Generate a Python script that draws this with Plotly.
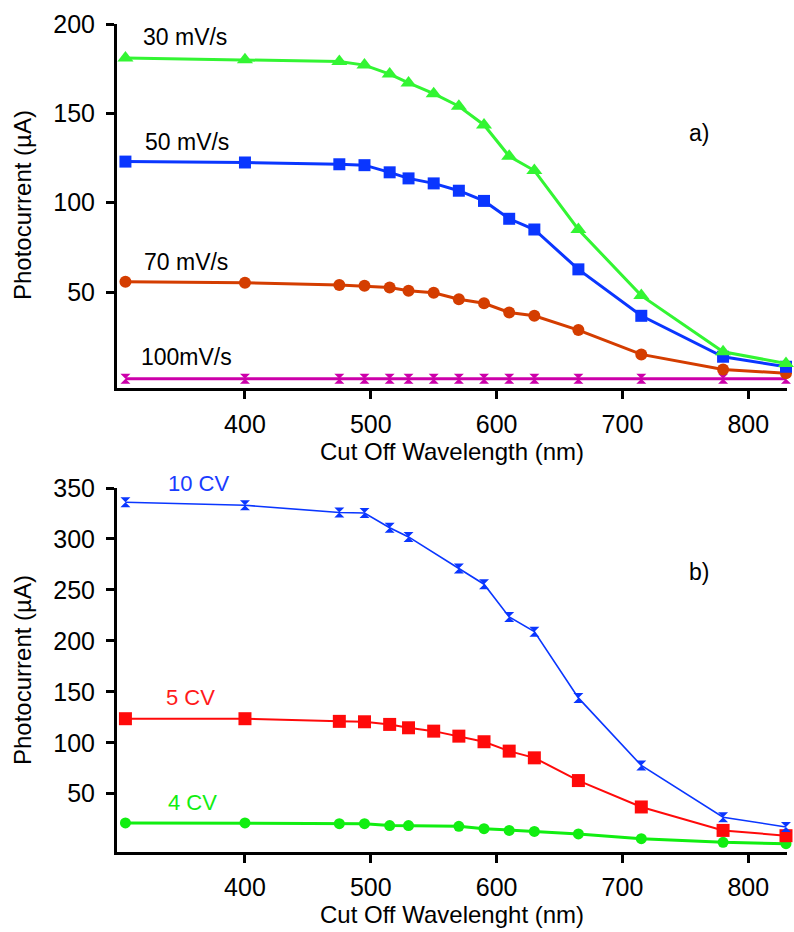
import plotly.graph_objects as go

# Cut-off wavelengths (nm)
wavelength = [305, 400, 475, 495, 515, 530, 550, 570, 590, 610, 630, 665, 715, 780, 830]
wavelength_no550 = [305, 400, 475, 495, 515, 530, 570, 590, 610, 630, 665, 715, 780, 830]

# Panel a) photocurrent (uA) vs scan rate
i_30mv = [181, 180, 179, 177, 172, 167, 161, 154, 143.5, 126, 118, 85, 48, 16.6, 10]
i_50mv = [123, 122.5, 121.5, 121, 117, 113.6, 110.8, 106.7, 101, 91, 85, 62.7, 36.7, 13.8, 8.2]
i_70mv = [55.8, 55.2, 54, 53.5, 52.6, 50.7, 49.6, 46, 43.7, 38.6, 36.7, 28.7, 15.1, 6.7, 4.5]
i_100mv = [1.5, 1.5, 1.5, 1.5, 1.5, 1.5, 1.5, 1.5, 1.5, 1.5, 1.5, 1.5, 1.5, 1.5, 1.5]

# Panel b) photocurrent (uA) vs number of CV cycles
i_10cv = [336, 333, 326, 325.5, 311, 302, 271, 255.6, 223.5, 209, 144, 77.7, 26.9, 17.4]
i_5cv = [123.6, 123.6, 121, 120.6, 118, 114.7, 111.4, 106.5, 101, 91.8, 85.2, 62.9, 37, 14, 8.8]
i_4cv = [21.3, 21.3, 20.6, 20.6, 18.7, 18.7, 18, 15.7, 14, 13, 10.5, 5.9, 2.3, 1]

FONT = "Liberation Sans, Arial, sans-serif"
W, H = 794, 932

fig = go.Figure()

def add(x, y, color, symbol, msize, lw, xa, ya):
    fig.add_trace(go.Scatter(
        x=x, y=y, mode="lines+markers", xaxis=xa, yaxis=ya,
        line=dict(color=color, width=lw),
        marker=dict(symbol=symbol, size=msize, color=color, line=dict(width=0)),
        showlegend=False, cliponaxis=False))

# panel a
add(wavelength, i_100mv, "#cc00aa", "hourglass", 10, 3, "x", "y")
add(wavelength, i_70mv, "#d43d00", "circle", 12, 3, "x", "y")
add(wavelength, i_50mv, "#0a36ff", "square", 12, 3, "x", "y")
add(wavelength, i_30mv, "#33f533", "triangle-up", 14, 3, "x", "y")

# panel b
add(wavelength_no550, i_4cv, "#11ee11", "circle", 11, 3, "x2", "y2")
add(wavelength, i_5cv, "#ff0a0a", "square", 13, 2, "x2", "y2")
add(wavelength_no550, i_10cv, "#0a36ff", "hourglass", 10, 1.6, "x2", "y2")

axis_common = dict(
    showline=True, linecolor="black", linewidth=3,
    ticks="outside", ticklen=8, tickwidth=2.5, tickcolor="black",
    showgrid=False, zeroline=False, mirror=False, automargin=False,
    tickfont=dict(family=FONT, size=25, color="black"),
)
title_font = dict(family=FONT, size=24, color="black")

xdom = [117 / W, 787 / W]
fig.update_layout(
    width=W, height=H,
    margin=dict(l=0, r=0, t=0, b=0),
    paper_bgcolor="white", plot_bgcolor="white",
    font=dict(family=FONT),
    xaxis=dict(axis_common, domain=xdom, range=[298.3, 830.8], anchor="y",
               tickvals=[400, 500, 600, 700, 800], ticklabelstandoff=4,
               title=dict(text="Cut Off Wavelength (nm)", font=title_font, standoff=4)),
    yaxis=dict(axis_common, domain=[1 - 388 / H, 1 - 24 / H], range=[-3.7, 200], anchor="x",
               tickvals=[50, 100, 150, 200], ticklabelstandoff=6),
    xaxis2=dict(axis_common, domain=xdom, range=[298.3, 830.8], anchor="y2",
                tickvals=[400, 500, 600, 700, 800], ticklabelstandoff=3,
                title=dict(text="Cut Off Wavelenght (nm)", font=title_font, standoff=4)),
    yaxis2=dict(axis_common, domain=[1 - 852 / H, 1 - 488 / H], range=[-7.2, 350], anchor="x2",
                tickvals=[50, 100, 150, 200, 250, 300, 350], ticklabelstandoff=6),
)

# rotated y-axis titles
for yc in (205, 670):
    fig.add_annotation(text="Photocurrent (\u00b5A)", x=22 / W, y=1 - yc / H,
                       xref="paper", yref="paper", xanchor="center", yanchor="middle",
                       textangle=-90, showarrow=False, font=title_font)

def label(text, x, y, color, xa, ya, size=23):
    fig.add_annotation(text=text, x=x, y=y, xref=xa, yref=ya, xanchor="left", yanchor="middle",
                       showarrow=False, font=dict(family=FONT, size=size, color=color))

label("30 mV/s", 317, 193, "black", "x", "y")
label("50 mV/s", 319, 134, "black", "x", "y")
label("70 mV/s", 318, 67, "black", "x", "y")
label("100mV/s", 315.5, 13.6, "black", "x", "y")
label("a)", 751, 139, "black", "x", "y")

label("10 CV", 337, 1 - 483 / H, "#1a3cff", "x2", "paper", size=22)
label("5 CV", 336, 144, "#ff1a1a", "x2", "y2", size=22)
label("4 CV", 337, 41, "#11ee11", "x2", "y2", size=22)
label("b)", 751, 268, "black", "x2", "y2")

fig.write_html("out.html")
